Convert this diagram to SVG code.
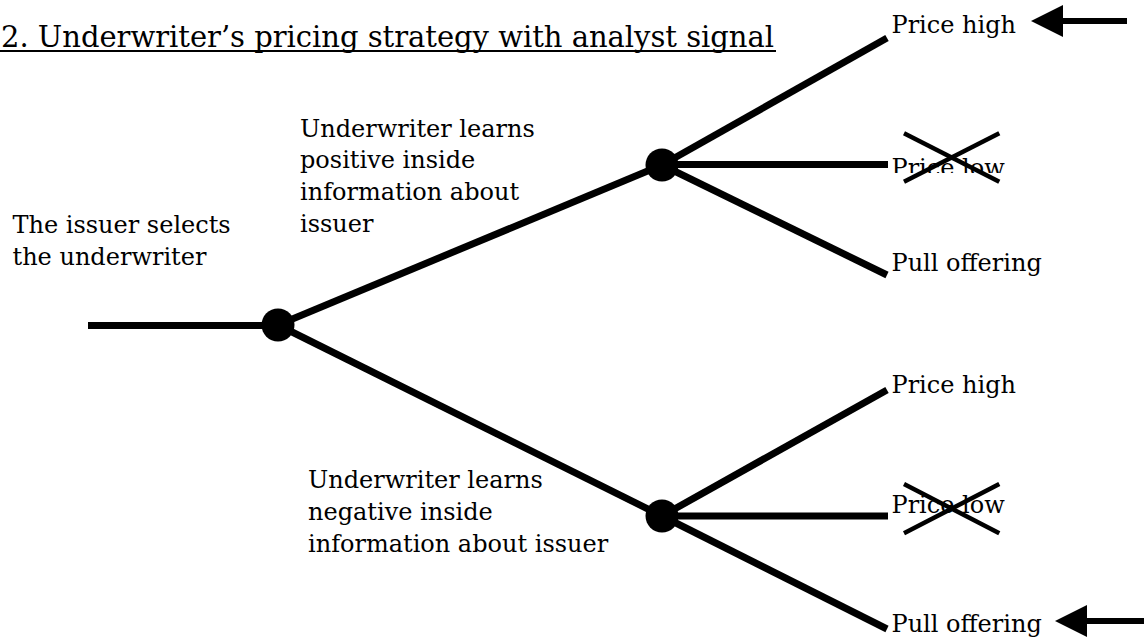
<svg xmlns="http://www.w3.org/2000/svg" width="1144" height="639" viewBox="0 0 1144 639">
  <defs>
    <style>
      text { font-family: "DejaVu Serif", "Liberation Serif", serif; font-size: 24px; fill: #000; }
      .title { font-size: 29px; }
      .edge { stroke: #000; stroke-width: 7; fill: none; stroke-linecap: butt; }
      .cross { stroke: #000; stroke-width: 4.5; }
      .arrow { stroke: #000; stroke-width: 6; }
      .node { fill: #000; }
    </style>
    <clipPath id="clipLowTop">
      <rect x="880" y="100" width="200" height="73"/>
    </clipPath>
    <marker id="ah" markerUnits="userSpaceOnUse" markerWidth="32" markerHeight="32" viewBox="0 0 30 30" refX="0" refY="15" orient="auto">
      <path d="M30,15 L0,0 L0,30 Z" fill="#000"/>
    </marker>
  </defs>
  <rect width="1144" height="639" fill="#fff"/>

  <g id="title">
    <text class="title" x="1" y="46.7" textLength="773" lengthAdjust="spacing">2. Underwriter’s pricing strategy with analyst signal</text>
    <line x1="0" y1="51" x2="776" y2="51" stroke="#000" stroke-width="2"/>
  </g>

  <g id="connectors">
    <line class="edge" x1="88" y1="325.5" x2="278" y2="325.5"/>
    <line class="edge" x1="278" y1="325" x2="662" y2="165"/>
    <line class="edge" x1="278" y1="325" x2="662" y2="516"/>
    <line class="edge" x1="662" y1="165" x2="887" y2="38"/>
    <line class="edge" x1="662" y1="164.5" x2="888" y2="164.5"/>
    <line class="edge" x1="662" y1="165" x2="887" y2="275"/>
    <line class="edge" x1="662" y1="516" x2="887" y2="390"/>
    <line class="edge" x1="662" y1="516" x2="888" y2="516"/>
    <line class="edge" x1="662" y1="516" x2="887" y2="629"/>
  </g>

  <g id="label-start">
    <text x="12.5" y="233">The issuer selects</text>
    <text x="12.5" y="265">the underwriter</text>
  </g>
  <g id="label-positive">
    <text x="300" y="136.7">Underwriter learns</text>
    <text x="300" y="168.4">positive inside</text>
    <text x="300" y="200.1">information about</text>
    <text x="300" y="231.8">issuer</text>
  </g>
  <g id="label-negative">
    <text x="308" y="488.3">Underwriter learns</text>
    <text x="308" y="520">negative inside</text>
    <text x="308" y="551.7">information about issuer</text>
  </g>

  <g id="node-root"><circle class="node" cx="278" cy="325" r="16.5"/></g>
  <g id="node-positive"><circle class="node" cx="662" cy="165" r="16.5"/></g>
  <g id="node-negative"><circle class="node" cx="662" cy="516" r="16.5"/></g>

  <g id="outcome-pos-high">
    <text x="891.5" y="33.3">Price high</text>
    <line class="arrow" x1="1127" y1="21" x2="1063" y2="21" marker-end="url(#ah)"/>
  </g>
  <g id="outcome-pos-low">
    <text x="891.5" y="175.5" clip-path="url(#clipLowTop)">Price low</text>
    <line class="cross" x1="904" y1="133.3" x2="999.3" y2="181.7"/>
    <line class="cross" x1="904" y1="181.7" x2="999.3" y2="133.3"/>
  </g>
  <g id="outcome-pos-pull">
    <text x="891.5" y="271">Pull offering</text>
  </g>

  <g id="outcome-neg-high">
    <text x="891.5" y="393.3">Price high</text>
  </g>
  <g id="outcome-neg-low">
    <text x="891.5" y="513.3">Price low</text>
    <line class="cross" x1="904" y1="484" x2="999.3" y2="533.3"/>
    <line class="cross" x1="904" y1="533.3" x2="999.3" y2="484"/>
  </g>
  <g id="outcome-neg-pull">
    <text x="891.5" y="631.7">Pull offering</text>
    <line class="arrow" x1="1144" y1="621" x2="1087" y2="621" marker-end="url(#ah)"/>
  </g>
</svg>
